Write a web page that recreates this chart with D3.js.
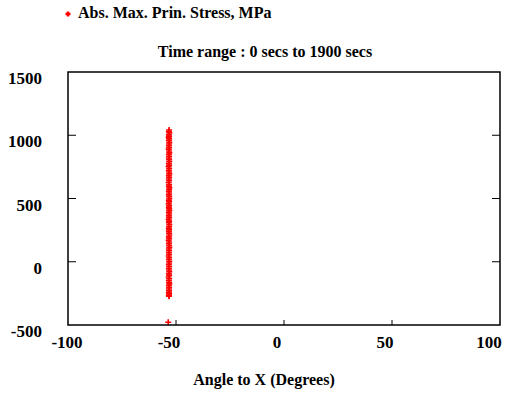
<!DOCTYPE html>
<html>
<head>
<meta charset="utf-8">
<script src="https://cdn.jsdelivr.net/npm/d3@7"></script>
<style>
  body { margin: 0; background: #fff; }
</style>
</head>
<body>
<div id="chart"></div>
<script>
// Data: [angle to X (deg), abs. max. principal stress (MPa)]
var points = [
  [-53.2, 1042], [-53.3, 1030], [-53.1, 1019], [-53.3, 1004], [-53.2, 993], [-53.4, 984],
  [-53.2, 971], [-53.3, 958], [-53.1, 944], [-53.2, 931], [-53.3, 917], [-53.2, 903],
  [-53.4, 890], [-53.2, 876], [-53.1, 861], [-53.3, 848], [-53.2, 834], [-53.3, 820],
  [-53.2, 807], [-53.1, 793], [-53.3, 779], [-53.2, 764], [-53.4, 751], [-53.2, 737],
  [-53.3, 722], [-53.2, 709], [-53.1, 695], [-53.3, 681], [-53.2, 668], [-53.3, 654],
  [-53.2, 640], [-53.4, 626], [-53.2, 611], [-53.3, 598], [-53.1, 584], [-53.2, 570],
  [-53.3, 557], [-53.2, 543], [-53.3, 529], [-53.2, 515], [-53.1, 500], [-53.3, 487],
  [-53.2, 473], [-53.4, 459], [-53.2, 446], [-53.3, 432], [-53.2, 418], [-53.1, 404],
  [-53.3, 390], [-53.2, 377], [-53.3, 363], [-53.2, 349], [-53.4, 335], [-53.2, 321],
  [-53.3, 308], [-53.1, 294], [-53.2, 280], [-53.3, 266], [-53.2, 252], [-53.3, 238],
  [-53.2, 225], [-53.1, 211], [-53.3, 197], [-53.2, 183], [-53.4, 170], [-53.2, 156],
  [-53.3, 142], [-53.2, 128], [-53.1, 114], [-53.3, 101], [-53.2, 87], [-53.3, 73],
  [-53.2, 59], [-53.4, 45], [-53.2, 32], [-53.3, 18], [-53.1, 4], [-53.2, -10],
  [-53.3, -24], [-53.2, -37], [-53.3, -51], [-53.2, -65], [-53.1, -79], [-53.3, -93],
  [-53.2, -106], [-53.4, -120], [-53.2, -134], [-53.3, -148], [-53.2, -162], [-53.1, -175],
  [-53.3, -189], [-53.2, -203], [-53.3, -216], [-53.2, -229], [-53.3, -242], [-53.2, -254],
  [-53.3, -266], [-53.2, -273], [-53.6, -478]
];
var xTicks = [-100, -50, 0, 50, 100];
var yTicks = [-500, 0, 500, 1000, 1500];
var seriesName = "Abs. Max. Prin. Stress, MPa";
var titleText = "Time range : 0 secs to 1900 secs";
var xTitle = "Angle to X (Degrees)";

var width = 505, height = 396;
var plot = { left: 68, right: 500, top: 72, bottom: 325 };

var svg = d3.select("#chart").append("svg")
  .attr("width", width)
  .attr("height", height)
  .attr("font-family", "'Liberation Serif', 'DejaVu Serif', 'Times New Roman', serif")
  .attr("font-weight", "bold");

var x = d3.scaleLinear().domain([-100, 100]).range([plot.left, plot.right]);
var y = d3.scaleLinear().domain([-500, 1500]).range([plot.bottom, plot.top]);

// plus marker path
function plus(s) {
  return "M" + (-s) + ",0H" + s + "M0," + (-s) + "V" + s;
}

// legend
svg.append("path")
  .attr("d", plus(2.5))
  .attr("transform", "translate(68,14)")
  .attr("stroke", "#ff0000")
  .attr("stroke-width", 2.5)
  .attr("fill", "none");
svg.append("text")
  .attr("x", 78)
  .attr("y", 18)
  .attr("font-size", 16)
  .text(seriesName);

// title
svg.append("text")
  .attr("x", 265)
  .attr("y", 57)
  .attr("text-anchor", "middle")
  .attr("font-size", 16)
  .text(titleText);

// tick marks (inward, left/right/bottom)
var inner = yTicks.filter(function(d) { return d > -500 && d < 1500; });
svg.selectAll(".ytick-l").data(inner).enter().append("line")
  .attr("x1", plot.left).attr("x2", plot.left + 8)
  .attr("y1", function(d) { return y(d); }).attr("y2", function(d) { return y(d); })
  .attr("stroke", "#000").attr("stroke-width", 1);
svg.selectAll(".ytick-r").data(inner).enter().append("line")
  .attr("x1", plot.right).attr("x2", plot.right - 8)
  .attr("y1", function(d) { return y(d); }).attr("y2", function(d) { return y(d); })
  .attr("stroke", "#000").attr("stroke-width", 1);
var innerX = xTicks.filter(function(d) { return d > -100 && d < 100; });
svg.selectAll(".xtick").data(innerX).enter().append("line")
  .attr("x1", function(d) { return x(d); }).attr("x2", function(d) { return x(d); })
  .attr("y1", plot.bottom).attr("y2", plot.bottom - 5)
  .attr("stroke", "#000").attr("stroke-width", 1);

// tick labels
svg.selectAll(".ylab").data(yTicks).enter().append("text")
  .attr("x", 42)
  .attr("y", function(d) { return y(d) + 12; })
  .attr("text-anchor", "end")
  .attr("font-size", 17)
  .text(function(d) { return d; });
svg.selectAll(".xlab").data(xTicks).enter().append("text")
  .attr("x", function(d) { return Math.min(Math.max(x(d) - 7, 67), 489); })
  .attr("y", 348)
  .attr("text-anchor", "middle")
  .attr("font-size", 17)
  .text(function(d) { return d; });

// axis title
svg.append("text")
  .attr("x", 264)
  .attr("y", 385)
  .attr("text-anchor", "middle")
  .attr("font-size", 16)
  .text(xTitle);

// data points
svg.selectAll(".pt").data(points).enter().append("path")
  .attr("d", plus(3))
  .attr("transform", function(d) { return "translate(" + x(d[0]) + "," + y(d[1]) + ")"; })
  .attr("stroke", "#ff0000")
  .attr("stroke-width", 1.6)
  .attr("fill", "none");

// frame
svg.append("rect")
  .attr("x", plot.left)
  .attr("y", plot.top)
  .attr("width", plot.right - plot.left)
  .attr("height", plot.bottom - plot.top)
  .attr("fill", "none")
  .attr("stroke", "#000")
  .attr("stroke-width", 1.5);
</script>
</body>
</html>
